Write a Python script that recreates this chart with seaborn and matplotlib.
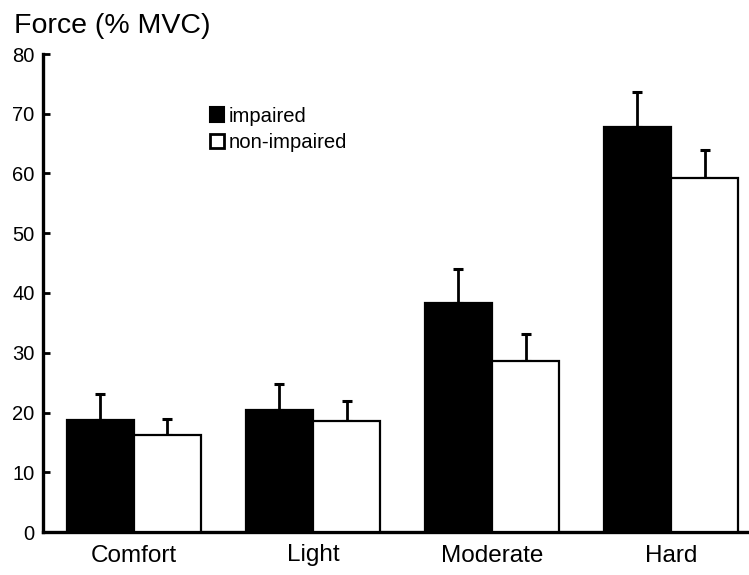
import matplotlib
matplotlib.use("Agg")
import matplotlib.pyplot as plt
from matplotlib.patches import Patch
import seaborn as sns
import pandas as pd
import numpy as np

categories = ["Comfort", "Light", "Moderate", "Hard"]
groups = ["impaired", "non-impaired"]
impaired = [18.7, 20.4, 38.3, 67.8]
impaired_err = [4.4, 4.4, 5.7, 5.8]
non_impaired = [16.2, 18.5, 28.6, 59.2]
non_impaired_err = [2.7, 3.5, 4.5, 4.8]
yticks = [0, 10, 20, 30, 40, 50, 60, 70, 80]

sns.set_style("ticks")
plt.rcParams["font.family"] = ["Liberation Sans", "DejaVu Sans"]
plt.rcParams["text.color"] = "black"
plt.rcParams["axes.labelcolor"] = "black"

df = pd.DataFrame({
    "level": categories * 2,
    "force": impaired + non_impaired,
    "group": [groups[0]] * 4 + [groups[1]] * 4,
})

fig = plt.figure(figsize=(7.49, 5.75), dpi=100)
ax = fig.add_axes([43 / 749, 43 / 575, 706 / 749, 478 / 575])

sns.barplot(data=df, x="level", y="force", hue="group", order=categories,
            hue_order=groups, palette={"impaired": "black", "non-impaired": "white"},
            edgecolor="black", linewidth=1.6, width=0.75, errorbar=None,
            legend=False, ax=ax, zorder=3)

for cont, errs in zip(ax.containers, [impaired_err, non_impaired_err]):
    xs = [b.get_x() + b.get_width() / 2 for b in cont]
    ys = [b.get_height() for b in cont]
    ax.errorbar(xs, ys, yerr=[np.zeros(len(errs)), errs], fmt="none",
                ecolor="black", elinewidth=2, capsize=3.3, capthick=2.2, zorder=2)

ax.set_xlim(-0.508, 3.436)
ax.set_ylim(0, 80)
ax.set_yticks(yticks)
ax.set_xlabel("")
ax.set_ylabel("")
for s in ["top", "right"]:
    ax.spines[s].set_visible(False)
for s in ["left", "bottom"]:
    ax.spines[s].set_linewidth(2.4)
    ax.spines[s].set_color("black")
ax.tick_params(axis="y", direction="in", length=5, width=2, labelsize=14.5, pad=6,
               colors="black", labelcolor="black")
ax.tick_params(axis="x", length=0, labelsize=17.5, pad=9, colors="black", labelcolor="black")

handles = [Patch(facecolor="black", edgecolor="black", linewidth=1.5),
           Patch(facecolor="white", edgecolor="black", linewidth=2)]
ax.legend(handles, groups, loc="center left", bbox_to_anchor=(0.236, 0.842),
          frameon=False, fontsize=14.6, handlelength=0.7, handleheight=0.7,
          handletextpad=0.25, labelspacing=0.38, borderpad=0, borderaxespad=0,
          labelcolor="black")

fig.text(14 / 749, 1 - 33 / 575, "Force (% MVC)", fontsize=20.5, va="baseline",
         ha="left", color="black")

fig.savefig("out.png", dpi=100)
